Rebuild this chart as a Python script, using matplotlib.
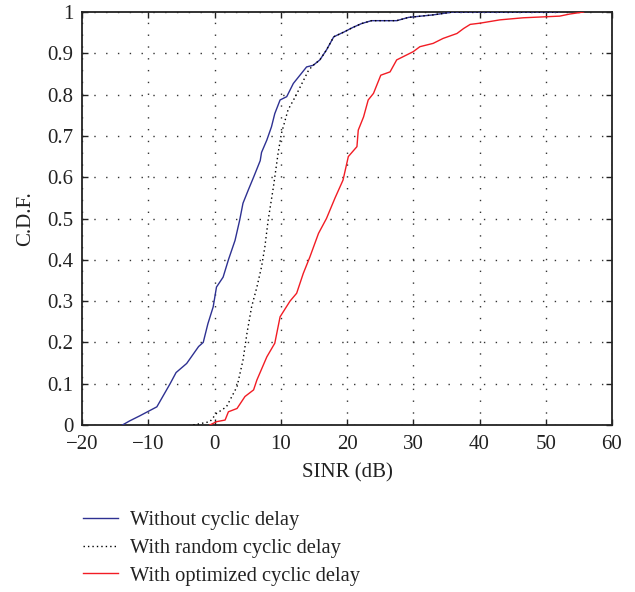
import matplotlib
matplotlib.use('Agg')
import matplotlib.pyplot as plt
from matplotlib.lines import Line2D

plt.rcParams['font.family'] = ['Liberation Serif', 'DejaVu Serif']
plt.rcParams['axes.unicode_minus'] = True

# ── data (SINR dB, C.D.F.) ──
without_x = [-13.9, -12.8, -11.3, -8.7, -6.7, -5.8, -4.2, -2.4, -1.7, -1.0, -0.2, 0.3, 1.3, 2.1,
             3.1, 3.8, 4.3, 5.1, 5.9, 6.9, 7.1, 7.9, 8.6, 9.1, 9.9, 10.9, 11.9, 12.9, 13.9, 14.9,
             15.9, 16.9, 18.0, 19.6, 20.8, 22.2, 23.7, 27.5, 29.3, 33.0, 36.0, 52.0]
without_y = [0.0, 0.01, 0.022, 0.044, 0.10, 0.127, 0.149, 0.19, 0.20, 0.245, 0.286, 0.334, 0.358, 0.40,
             0.447, 0.496, 0.537, 0.569, 0.60, 0.64, 0.66, 0.69, 0.722, 0.754, 0.787, 0.795, 0.827, 0.847, 0.867, 0.871,
             0.884, 0.908, 0.94, 0.952, 0.962, 0.972, 0.979, 0.979, 0.987, 0.993, 1.0, 1.0]

random_x = [-3.2, -0.7, 0.3, 1.8, 3.4, 4.3, 4.9, 5.6, 6.4, 7.1, 7.6, 8.1, 8.9, 9.6, 10.1, 11.1,
            12.2, 13.2, 14.2, 14.9, 15.9, 16.9, 18.0, 19.6, 20.8, 22.2, 23.7, 27.5, 29.3, 33.0, 36.0, 52.0]
random_y = [0.0, 0.008, 0.028, 0.044, 0.093, 0.157, 0.222, 0.286, 0.334, 0.383, 0.431, 0.496, 0.577, 0.658, 0.706, 0.763,
            0.795, 0.827, 0.859, 0.871, 0.884, 0.908, 0.94, 0.952, 0.962, 0.972, 0.979, 0.979, 0.987, 0.993, 1.0, 1.0]

optim_x = [-0.7, 0.3, 1.6, 2.1, 3.4, 4.6, 5.9, 6.4, 7.9, 9.1, 9.9, 11.4, 12.4, 13.4, 14.4, 15.7,
           16.9, 18.2, 19.4, 20.2, 21.5, 21.7, 22.5, 23.2, 24.0, 25.1, 26.5, 27.5, 29.0, 30.0, 31.0,
           33.0, 34.5, 36.6, 37.6, 38.6, 40.1, 43.1, 46.6, 52.1, 53.6, 55.7]
optim_y = [0.0, 0.008, 0.012, 0.032, 0.04, 0.069, 0.085, 0.109, 0.165, 0.198, 0.262, 0.30, 0.319, 0.367, 0.407, 0.464,
           0.50, 0.55, 0.593, 0.65, 0.674, 0.714, 0.746, 0.787, 0.803, 0.847, 0.855, 0.884, 0.896, 0.904, 0.916,
           0.924, 0.936, 0.948, 0.96, 0.97, 0.973, 0.981, 0.986, 0.99, 0.995, 1.0]

labels = ['Without cyclic delay', 'With random cyclic delay', 'With optimized cyclic delay']
x_ticks = [-20, -10, 0, 10, 20, 30, 40, 50, 60]
y_ticks = [0, 0.1, 0.2, 0.3, 0.4, 0.5, 0.6, 0.7, 0.8, 0.9, 1]
y_ticklabels = ['0', '0.1', '0.2', '0.3', '0.4', '0.5', '0.6', '0.7', '0.8', '0.9', '1']

BLUE = '#2e3192'
RED = '#f21c24'
TXT = '#222222'

fig = plt.figure(figsize=(6.35, 5.92), dpi=100)
ax = fig.add_axes([82 / 635, 1 - 425 / 592, (612 - 82) / 635, (425 - 12) / 592])

ax.plot(without_x, without_y, color=BLUE, lw=1.0, zorder=3)
ax.plot(random_x, random_y, color='black', lw=1.0, linestyle=(0, (1, 2.2)), zorder=4)
ax.plot(optim_x, optim_y, color=RED, lw=1.0, zorder=3)

ax.set_xlim(-20, 60)
ax.set_ylim(0, 1)
ax.set_xticks(x_ticks)
ax.set_yticks(y_ticks)
ax.set_yticklabels(y_ticklabels)
ax.grid(True, color='#333333', linestyle=(0, (1, 7.5)), lw=1.0)

ax.tick_params(direction='in', length=4, width=1.0, top=True, right=True,
               labelsize=15, colors=TXT)
ax.tick_params(axis='y', pad=6)
ax.tick_params(axis='x', pad=7)
for sp in ax.spines.values():
    sp.set_linewidth(1.3)
    sp.set_color(TXT)

ax.set_xlabel('SINR (dB)', fontsize=15, color=TXT, labelpad=7)
ax.set_ylabel('C.D.F.', fontsize=15, color=TXT, labelpad=9)

# legend below the axes, no frame
handles = [Line2D([], [], color=BLUE, lw=1.0),
           Line2D([], [], color='black', lw=1.0, linestyle=(0, (1, 2.2))),
           Line2D([], [], color=RED, lw=1.0)]
fig.legend(handles, labels, loc='upper left', bbox_to_anchor=(83 / 635, 1 - 511 / 592),
           frameon=False, fontsize=14.8, handlelength=1.7, handletextpad=0.6,
           labelspacing=0.4, borderpad=0, borderaxespad=0, labelcolor=TXT)

fig.savefig('out.png', dpi=100)
